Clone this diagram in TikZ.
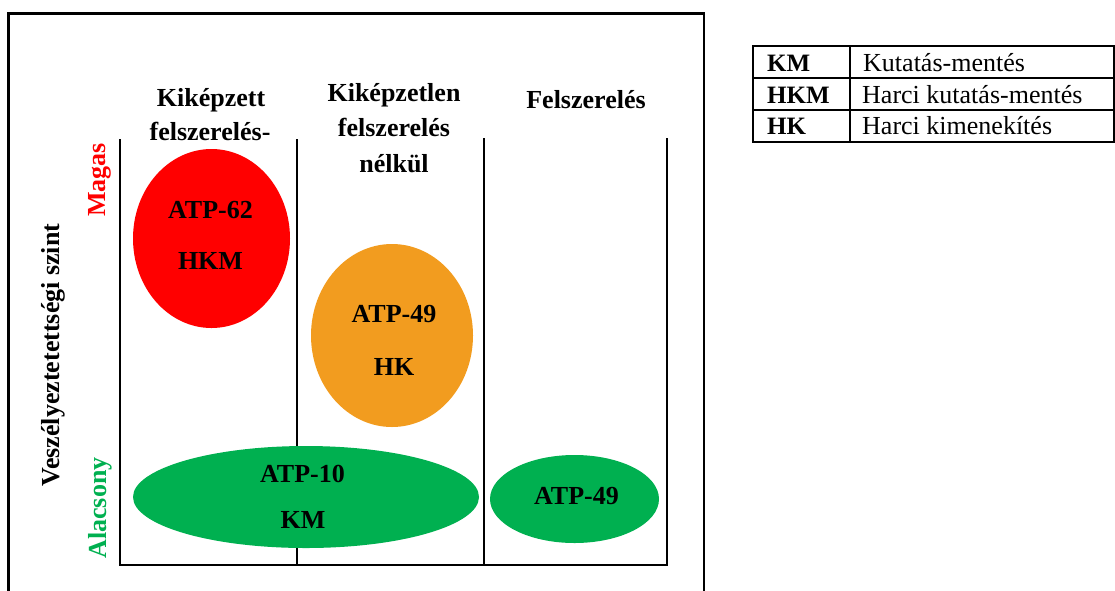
\documentclass[tikz,border=0pt]{standalone}
\usepackage{fontspec}
\setmainfont{Liberation Serif}
\usetikzlibrary{shapes.geometric}
\definecolor{cRed}{HTML}{FF0000}
\definecolor{cOrange}{HTML}{F29C1F}
\definecolor{cGreen}{HTML}{00B050}
\begin{document}
\begin{tikzpicture}[x=1pt,y=-1pt,
  hdr/.style={font=\fontsize{26}{34}\selectfont\bfseries, inner sep=0pt, anchor=base},
  side/.style={font=\fontsize{26}{34}\selectfont\bfseries, inner sep=0pt, rotate=90, anchor=center},
  blob/.style={ellipse, inner sep=0pt, draw=none},
  frameline/.style={line width=2.5pt},
  gridline/.style={line width=1.3pt},
  axisline/.style={line width=2pt},
  tabline/.style={line width=2pt},
  tabkey/.style={font=\fontsize{25}{30}\selectfont\bfseries, inner sep=0pt, anchor=base west},
  tabval/.style={font=\fontsize{26}{30}\selectfont, inner sep=0pt, anchor=base west}]
\useasboundingbox (0,0) rectangle (1115,590);

% outer frame (open at the bottom edge of the picture)
\draw[frameline] (8.7,592) -- (8.7,13.3) -- (704,13.3) -- (704,592);

% column lines and axis
\draw[gridline] (120,139) -- (120,565);
\draw[gridline] (297,139) -- (297,565);
\draw[gridline] (484,138) -- (484,565);
\draw[gridline] (667,138) -- (667,565);
\draw[axisline] (119.3,565) -- (667.7,565);

% headers
\node[hdr] (h1a) at (211,106) {Kiképzett};
\node[hdr] (h1b) at (210,140) {felszerelés-};
\node[hdr] (h2a) at (394,101) {Kiképzetlen};
\node[hdr] (h2b) at (394,136) {felszerelés};
\node[hdr] (h2c) at (394,172) {nélkül};
\node[hdr] (h3) at (586,108) {Felszerelés};

% side labels
\node[side, text=cRed] (magas) at (100,180) {Magas};
\node[side, text=cGreen] (alacsony) at (100,508) {Alacsony};
\node[side] (szint) at (53,355) {Veszélyeztetettségi szint};

% ellipses
\node[blob, fill=cRed, minimum width=157pt, minimum height=179pt] (red) at (211.5,238.5) {};
\node[blob, fill=cOrange, minimum width=162pt, minimum height=183pt] (orange) at (392,335.5) {};
\node[blob, fill=cGreen, minimum width=346pt, minimum height=102pt] (gbig) at (306,497) {};
\node[blob, fill=cGreen, minimum width=169pt, minimum height=88pt] (gsmall) at (574.5,499) {};

\node[hdr] (t1a) at (210.5,218) {ATP-62};
\node[hdr] (t1b) at (210.5,269) {HKM};
\node[hdr] (t2a) at (394,322) {ATP-49};
\node[hdr] (t2b) at (394,375) {HK};
\node[hdr] (t3a) at (302.5,482) {ATP-10};
\node[hdr] (t3b) at (303,528) {KM};
\node[hdr] (t4) at (576.5,504) {ATP-49};

% legend table
\draw[tabline] (753,46) rectangle (1114,142);
\draw[tabline] (753,78) -- (1114,78);
\draw[tabline] (753,110) -- (1114,110);
\draw[tabline] (850,46) -- (850,142);
\node[tabkey] (k1) at (767,71) {KM};
\node[tabkey] (k2) at (767,103) {HKM};
\node[tabkey] (k3) at (767,134) {HK};
\node[tabval] (v1) at (863,71) {Kutatás-mentés};
\node[tabval] (v2) at (862,103) {Harci kutatás-mentés};
\node[tabval] (v3) at (862,134) {Harci kimenekítés};
\end{tikzpicture}
\end{document}
